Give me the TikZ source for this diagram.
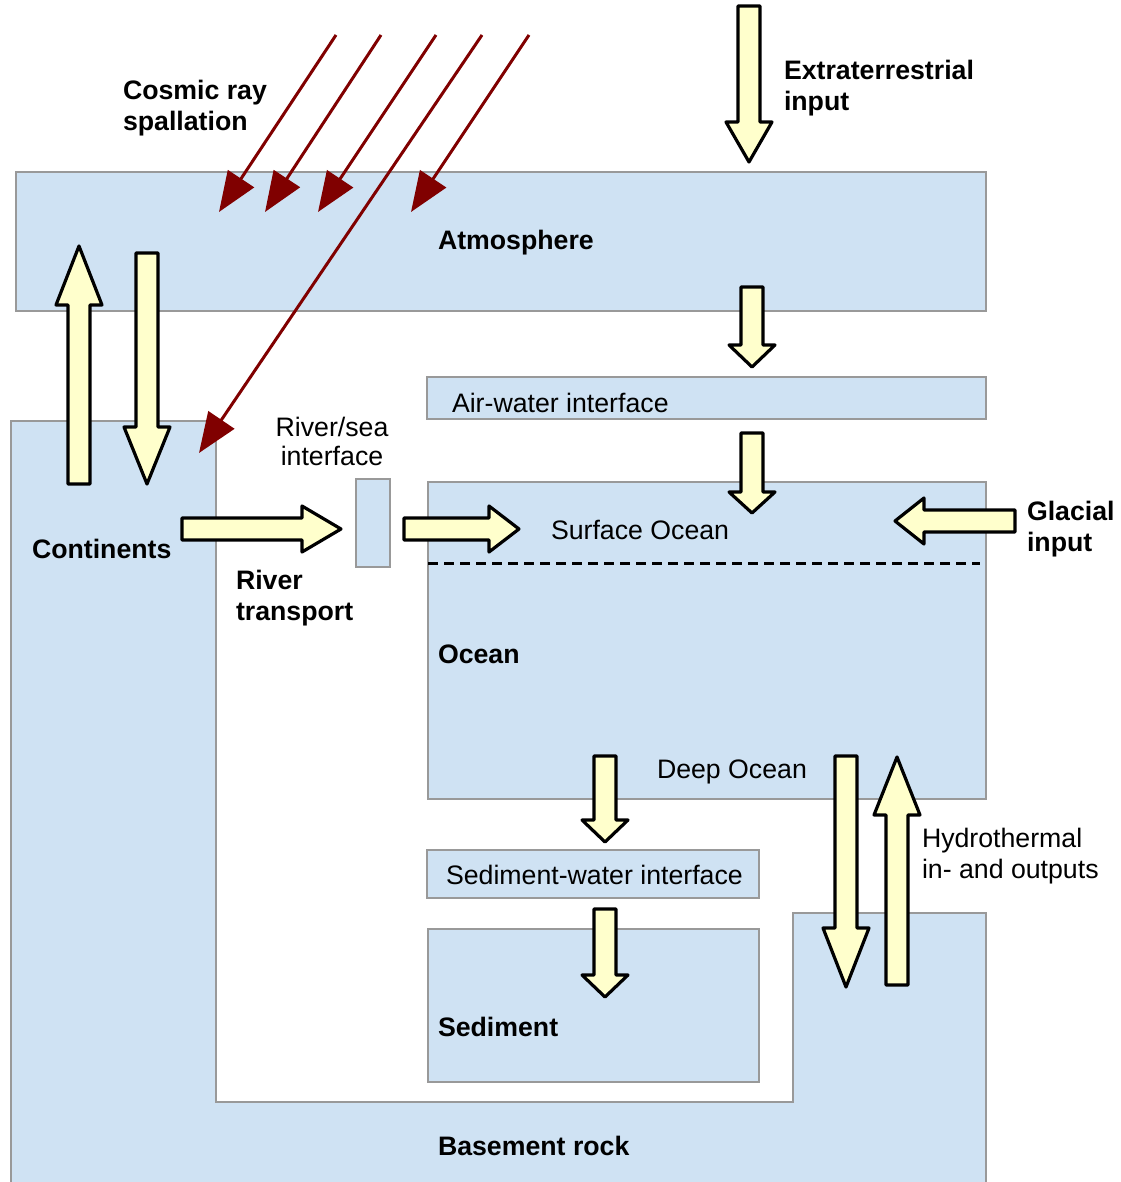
\documentclass[tikz,border=0pt]{standalone}
\usepackage{fontspec}
\setmainfont{Liberation Sans}
\usetikzlibrary{arrows.meta,calc}
\definecolor{boxfill}{HTML}{CFE2F3}
\definecolor{boxline}{HTML}{999999}
\definecolor{arrfill}{HTML}{FFFFCC}
\definecolor{raycol}{HTML}{800000}
\tikzset{
  boxst/.style={draw=boxline, fill=boxfill, line width=1.3pt},
  blk/.style={draw=black, fill=arrfill, line width=3.2pt, line join=round},
  rayst/.style={draw=raycol, line width=3pt, -{Triangle[length=40pt,width=31pt]}},
  lbl/.style={inner sep=0pt, outer sep=0pt, anchor=base west, font=\fontsize{26.7}{31}\selectfont},
  blbl/.style={lbl, font=\fontsize{26.7}{31}\selectfont\bfseries},
  mlbl/.style={anchor=north west, align=left},
}
\newcommand\blockarrow[3]{%
  \coordinate (ba-b) at ($(#2)!#3!(#1)$);
  \draw[blk] ($(#1)!11pt!90:(#2)$) -- ($(ba-b)!11pt!90:(#2)$) -- ($(ba-b)!23pt!90:(#2)$)
    -- (#2) -- ($(ba-b)!23pt!-90:(#2)$) -- ($(ba-b)!11pt!-90:(#2)$) -- ($(#1)!11pt!-90:(#2)$) -- cycle;}
\begin{document}
\begin{tikzpicture}[x=1pt, y=-1pt]
\useasboundingbox (0,0) rectangle (1120,1182);
\clip (0,0) rectangle (1120,1182);
% boxes
\path[boxst] (16,172) rectangle (986,311);
\path[boxst] (427,377) rectangle (986,419);
\path[boxst] (11,421) -- (216,421) -- (216,1102) -- (793,1102) -- (793,913) -- (986,913) -- (986,1195) -- (11,1195) -- cycle;
\path[boxst] (356,479) rectangle (390,567);
\path[boxst] (428,482) rectangle (986,799);
\path[boxst] (427,850) rectangle (759,898);
\path[boxst] (428,929) rectangle (759,1082);
\draw[line width=3pt, dash pattern=on 9.5pt off 6.5pt] (428,563) -- (980,563);
% labels
\node[blbl] (atm) at (438,250) {Atmosphere};
\node[lbl] (aw) at (452,412) {Air-water interface};
\node[blbl] (cont) at (32,558) {Continents};
\node[lbl] (surf) at (551,539) {Surface Ocean};
\node[blbl] (ocean) at (438,663) {Ocean};
\node[lbl] (deep) at (657,778) {Deep Ocean};
\node[lbl] (sw) at (446,884) {Sediment-water interface};
\node[blbl] (sed) at (438,1036) {Sediment};
\node[blbl] (base) at (438,1155) {Basement rock};
\node[blbl, mlbl] (cosmic) at (123,80) {Cosmic ray\\spallation};
\node[blbl, mlbl] (extra) at (784,60) {Extraterrestrial\\input};
\node[blbl, mlbl] (river) at (236,570) {River\\transport};
\node[blbl, mlbl] (glac) at (1027,501) {Glacial\\input};
\node[lbl, mlbl] (hydro) at (922,828) {Hydrothermal\\in- and outputs};
\node[lbl, anchor=north, align=center, font=\fontsize{26.7}{29}\selectfont] (rs) at (332,417) {River/sea\\interface};
% block arrow ends
\coordinate (et-t) at (749,6);   \coordinate (et-h) at (749,162);
\coordinate (aa-t) at (752,287); \coordinate (aa-h) at (752,367);
\coordinate (ao-t) at (752,433); \coordinate (ao-h) at (752,513);
\coordinate (cu-t) at (79,484);  \coordinate (cu-h) at (79,246);
\coordinate (cd-t) at (147,253); \coordinate (cd-h) at (147,484);
\coordinate (rt-t) at (182,529); \coordinate (rt-h) at (341,529);
\coordinate (ro-t) at (404,529); \coordinate (ro-h) at (519,529);
\coordinate (gl-t) at (1015,521); \coordinate (gl-h) at (895,521);
\coordinate (ds-t) at (605,756); \coordinate (ds-h) at (605,842);
\coordinate (ss-t) at (605,909); \coordinate (ss-h) at (605,997);
\coordinate (hd-t) at (846,756); \coordinate (hd-h) at (846,987);
\coordinate (hu-t) at (897,985); \coordinate (hu-h) at (897,757);
\blockarrow{et-t}{et-h}{40pt}
\blockarrow{aa-t}{aa-h}{22pt}
\blockarrow{ao-t}{ao-h}{21pt}
\blockarrow{cu-t}{cu-h}{59pt}
\blockarrow{cd-t}{cd-h}{57pt}
\blockarrow{rt-t}{rt-h}{39pt}
\blockarrow{ro-t}{ro-h}{30pt}
\blockarrow{gl-t}{gl-h}{29pt}
\blockarrow{ds-t}{ds-h}{22pt}
\blockarrow{ss-t}{ss-h}{22pt}
\blockarrow{hd-t}{hd-h}{59pt}
\blockarrow{hu-t}{hu-h}{58pt}
% cosmic rays
\coordinate (r1a) at (336,35); \coordinate (r1b) at (219,212);
\coordinate (r2a) at (381,35); \coordinate (r2b) at (265,212);
\coordinate (r3a) at (436,35); \coordinate (r3b) at (318,212);
\coordinate (r4a) at (482,35); \coordinate (r4b) at (199,453);
\coordinate (r5a) at (529,35); \coordinate (r5b) at (411,212);
\draw[rayst] (r1a) -- (r1b);
\draw[rayst] (r2a) -- (r2b);
\draw[rayst] (r3a) -- (r3b);
\draw[rayst] (r4a) -- (r4b);
\draw[rayst] (r5a) -- (r5b);
\end{tikzpicture}
\end{document}
